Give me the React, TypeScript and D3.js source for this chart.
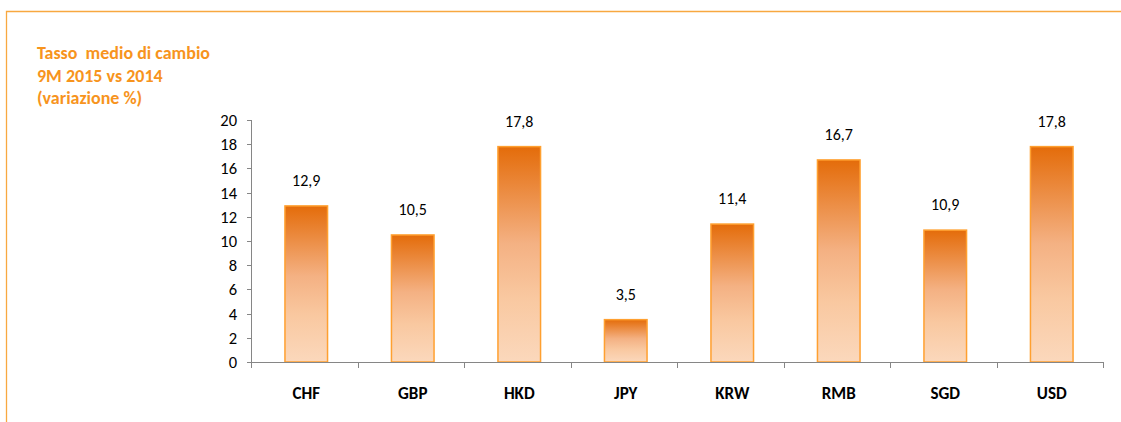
import React from "react";
import * as d3 from "d3";

const categories = ["CHF", "GBP", "HKD", "JPY", "KRW", "RMB", "SGD", "USD"];
const values = [12.9, 10.5, 17.8, 3.5, 11.4, 16.7, 10.9, 17.8];
const yTicks = [0, 2, 4, 6, 8, 10, 12, 14, 16, 18, 20];
const titleLines = ["Tasso  medio di cambio", "9M 2015 vs 2014", "(variazione %)"];

const W = 1121;
const H = 422;
const left = 251;
const right = 1103;
const top = 120;
const bottom = 362;

export default function App() {
  const x = d3.scaleBand<string>().domain(categories).range([left, right]).paddingInner(0.6).paddingOuter(0.3);
  const xb = d3.scaleBand<string>().domain(categories).range([left, right]);
  const y = d3.scaleLinear().domain([0, 20]).range([bottom, top]);
  const fmt = (v: number) => v.toFixed(1).replace(".", ",");
  const font = "Carlito, Calibri, Lato, 'Open Sans', sans-serif";
  return (
    <svg width={W} height={H} style={{ position: "absolute", left: 0, top: 0 }} fontFamily={font}>
      <defs>
        <linearGradient id="barGrad" x1="0" y1="0" x2="0" y2="1">
          <stop offset="0%" stopColor="#E46C0A" />
          <stop offset="45%" stopColor="#F4B183" />
          <stop offset="70%" stopColor="#F9C8A0" />
          <stop offset="100%" stopColor="#FBD8BC" />
        </linearGradient>
      </defs>
      <rect x={0} y={0} width={W} height={H} fill="#fff" />
      <path d={`M6.5,${H} V11.5 H${W}`} fill="none" stroke="#F8A840" strokeWidth={1.3} />
      {titleLines.map((t, i) => (
        <text key={i} x={37} y={59 + i * 22.5} fill="#F7941D" fontWeight="bold" fontSize={18} style={{ whiteSpace: "pre" }}>
          {t}
        </text>
      ))}
      {/* y axis */}
      <line x1={left + 0.5} x2={left + 0.5} y1={top} y2={bottom} stroke="#868686" />
      {yTicks.map((t) => (
        <g key={t}>
          <line x1={left - 4} x2={left} y1={Math.round(y(t)) + 0.5} y2={Math.round(y(t)) + 0.5} stroke="#868686" />
          <text x={left - 14} y={y(t)} dy="0.36em" textAnchor="end" fontSize={16.5} fill="#000">
            {t}
          </text>
        </g>
      ))}
      {/* bars */}
      {categories.map((c, i) => (
        <g key={c}>
          <rect
            x={(x(c) as number) + 2}
            y={y(values[i])}
            width={x.bandwidth()}
            height={bottom - y(values[i])}
            fill="url(#barGrad)"
            stroke="#FFA030"
            strokeWidth={1.5}
          />
          <text x={(x(c) as number) + 2 + x.bandwidth() / 2} y={y(values[i]) - 20} textAnchor="middle" fontSize={16} fill="#000">
            {fmt(values[i])}
          </text>
          <text x={(xb(c) as number) + xb.bandwidth() / 2 + 2} y={399} textAnchor="middle" fontSize={17} fontWeight="bold" fill="#000">
            {c}
          </text>
        </g>
      ))}
      {/* x axis */}
      <line x1={left} x2={right} y1={bottom + 0.5} y2={bottom + 0.5} stroke="#868686" />
      {[...categories.map((c) => xb(c) as number), right].map((v, i) => (
        <line key={i} x1={Math.round(v) + 0.5} x2={Math.round(v) + 0.5} y1={bottom} y2={bottom + 6} stroke="#868686" />
      ))}
    </svg>
  );
}
